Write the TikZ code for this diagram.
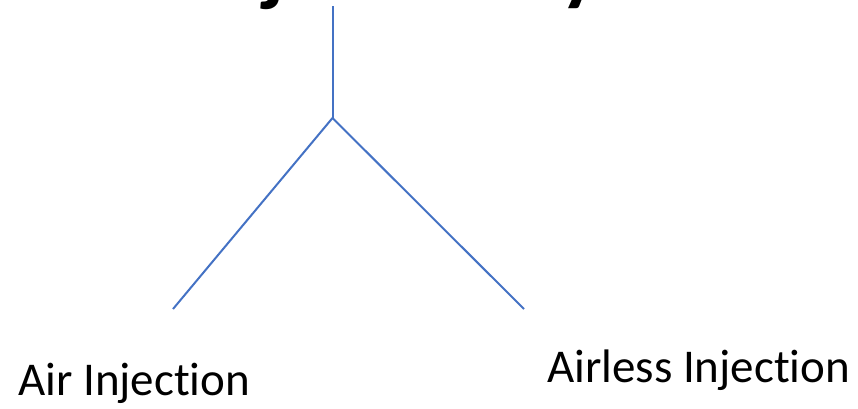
\documentclass[tikz,border=0pt]{standalone}
\usepackage{fontspec}
\setmainfont{Carlito}[Ligatures=NoCommon]
\definecolor{linkblue}{HTML}{4472C4}
\begin{document}
\begin{tikzpicture}[x=1pt,y=-1pt,
  conn/.style={draw=linkblue,line width=2pt},
  lbl/.style={inner sep=0pt,anchor=base west,font=\fontsize{47}{47}\selectfont},
  ttl/.style={inner sep=0pt,anchor=base,font=\bfseries\fontsize{84}{84}\selectfont}]
\useasboundingbox (0,0) rectangle (858,408);
\clip (0,0) rectangle (858,408);
\node[ttl] (title) at (400.5,-5) {Fuel Injection System};
\coordinate (top) at (332.5,6);
\coordinate (apex) at (332.5,118);
\coordinate (lend) at (173,309);
\coordinate (rend) at (524,309);
\node[lbl] (air) at (18,395) {Air Injection};
\node[lbl] (airless) at (547,382) {Airless Injection};
\draw[conn] (top) -- (apex);
\draw[conn] (apex) -- (lend);
\draw[conn] (apex) -- (rend);
\end{tikzpicture}
\end{document}
